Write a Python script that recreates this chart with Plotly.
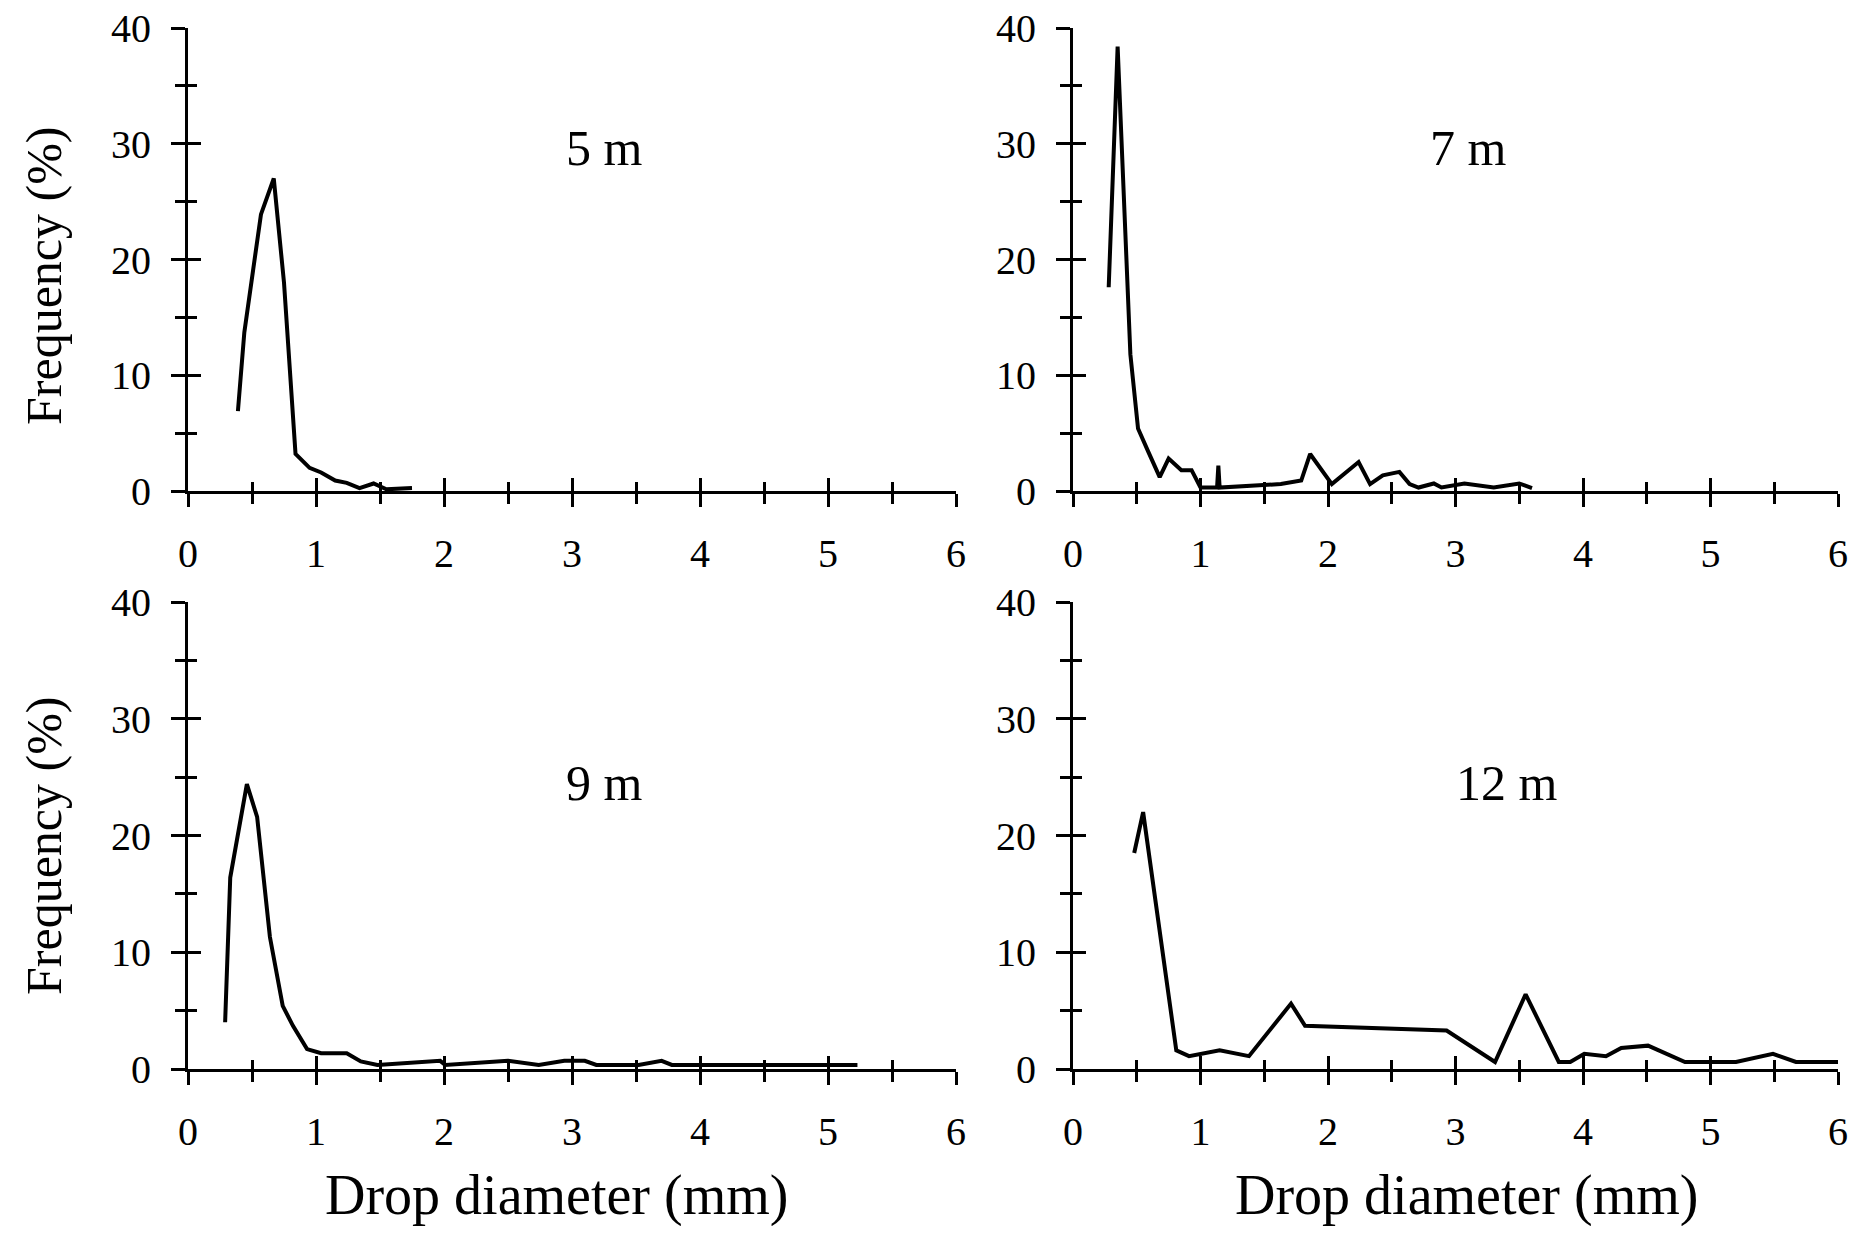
import plotly.graph_objects as go

# ---- data ----
panel_labels = ["5 m", "7 m", "9 m", "12 m"]

d5_x = [0.39, 0.44, 0.57, 0.67, 0.75, 0.84, 0.95, 1.04, 1.15, 1.24, 1.34, 1.45, 1.55, 1.66, 1.75]
d5_y = [6.9, 13.7, 23.9, 27.0, 18.0, 3.2, 2.0, 1.6, 0.9, 0.7, 0.25, 0.65, 0.15, 0.25, 0.25]

d7_x = [0.28, 0.35, 0.45, 0.51, 0.59, 0.68, 0.75, 0.85, 0.93, 1.00, 1.13, 1.14, 1.15, 1.34, 1.63, 1.79,
        1.86, 2.03, 2.24, 2.33, 2.43, 2.56, 2.64, 2.71, 2.83, 2.89, 3.07, 3.30, 3.50, 3.60]
d7_y = [17.6, 38.4, 11.8, 5.4, 3.4, 1.2, 2.8, 1.8, 1.8, 0.3, 0.3, 2.2, 0.3, 0.45, 0.6, 0.9,
        3.2, 0.6, 2.5, 0.6, 1.35, 1.65, 0.6, 0.3, 0.65, 0.3, 0.65, 0.3, 0.65, 0.25]

d9_x = [0.29, 0.33, 0.46, 0.54, 0.64, 0.74, 0.82, 0.93, 1.04, 1.24, 1.35, 1.48, 1.97, 2.01, 2.50,
        2.74, 2.94, 3.10, 3.19, 3.52, 3.70, 3.78, 5.23]
d9_y = [4.0, 16.4, 24.4, 21.6, 11.3, 5.4, 3.7, 1.7, 1.35, 1.35, 0.65, 0.35, 0.7, 0.35, 0.7,
        0.35, 0.7, 0.7, 0.35, 0.35, 0.7, 0.35, 0.35]

d12_x = [0.48, 0.55, 0.81, 0.91, 1.15, 1.38, 1.71, 1.82, 2.93, 3.31, 3.55, 3.81, 3.90, 4.01, 4.18,
         4.30, 4.51, 4.80, 5.20, 5.49, 5.67, 6.00]
d12_y = [18.5, 22.0, 1.6, 1.1, 1.6, 1.1, 5.6, 3.7, 3.3, 0.6, 6.4, 0.6, 0.6, 1.3, 1.1,
         1.8, 2.0, 0.6, 0.6, 1.3, 0.6, 0.6]

series_x = [d5_x, d7_x, d9_x, d12_x]
series_y = [d5_y, d7_y, d9_y, d12_y]

x_title = "Drop diameter (mm)"
y_title = "Frequency (%)"
x_range = [0, 6]
y_range = [0, 40]

# ---- layout ----
OFF = 8                      # page body margin around the plot div
W, H = 1874 - 2 * OFF, 1234 - 2 * OFF
FONT = "Liberation Serif"


def px(v):
    return (v - OFF) / W


def py(v):
    return 1 - (v - OFF) / H


x_domains = [[px(188), px(956)], [px(1073), px(1838)]]
y_domains = [[py(491), py(28)], [py(1069), py(602)]]
label_pos = [(3.25, 29.6), (3.10, 29.6), (3.25, 24.5), (3.40, 24.5)]

fig = go.Figure()
layout = dict(
    width=W, height=H, margin=dict(l=0, r=0, t=0, b=0, pad=0, autoexpand=False),
    paper_bgcolor="white", plot_bgcolor="white", showlegend=False,
    font=dict(family=FONT, color="black", size=40),
)
annotations = []

for i in range(4):
    row, col = divmod(i, 2)
    n = i + 1
    m = i + 5
    xa, ya = f"x{n if n > 1 else ''}", f"y{n if n > 1 else ''}"
    xo, yo = f"x{m}", f"y{m}"
    xkey, ykey = f"xaxis{n if n > 1 else ''}", f"yaxis{n if n > 1 else ''}"

    base_x = dict(domain=x_domains[col], anchor=ya, range=x_range, showgrid=False, zeroline=False,
                  automargin=False, showline=True, linecolor="black", linewidth=3,
                  tickmode="linear", tick0=0, dtick=1, ticks="outside", ticklen=13, tickwidth=2.5,
                  tickcolor="black", tickfont=dict(size=40, family=FONT), ticklabelstandoff=12,
                  ticklabeloverflow="allow",
                  minor=dict(dtick=0.5, ticks="outside", ticklen=10, tickwidth=2.5, tickcolor="black"))
    base_y = dict(domain=y_domains[row], anchor=xa, range=y_range, showgrid=False, zeroline=False,
                  automargin=False, showline=True, linecolor="black", linewidth=3,
                  tickmode="linear", tick0=0, dtick=10, ticks="outside", ticklen=14, tickwidth=2.5,
                  tickcolor="black", tickfont=dict(size=40, family=FONT), ticklabelstandoff=12,
                  ticklabeloverflow="allow",
                  minor=dict(dtick=5, ticks="outside", ticklen=10, tickwidth=2.5, tickcolor="black"))
    layout[xkey] = base_x
    layout[ykey] = base_y
    # overlay axes give the inside half of the crossing ticks
    layout[f"xaxis{m}"] = dict(domain=x_domains[col], anchor=yo, overlaying=xa, matches=xa,
                               range=x_range, showgrid=False, zeroline=False, showline=False,
                               automargin=False, showticklabels=False, tickmode="linear", tick0=0,
                               dtick=1, ticks="inside", ticklen=13, tickwidth=2.5, tickcolor="black",
                               minor=dict(dtick=0.5, ticks="inside", ticklen=9, tickwidth=2.5,
                                          tickcolor="black"))
    layout[f"yaxis{m}"] = dict(domain=y_domains[row], anchor=xo, overlaying=ya, matches=ya,
                               range=y_range, showgrid=False, zeroline=False, showline=False,
                               automargin=False, showticklabels=False, tickmode="linear", tick0=0,
                               dtick=10, ticks="inside", ticklen=13, tickwidth=2.5, tickcolor="black",
                               minor=dict(dtick=5, ticks="inside", ticklen=9, tickwidth=2.5,
                                          tickcolor="black"))

    fig.add_trace(go.Scatter(x=series_x[i], y=series_y[i], mode="lines", xaxis=xa, yaxis=ya,
                             line=dict(color="black", width=4), hoverinfo="skip"))
    fig.add_trace(go.Scatter(x=series_x[i], y=series_y[i], mode="none", xaxis=xo, yaxis=yo,
                             hoverinfo="skip"))

    annotations.append(dict(text=panel_labels[i], x=label_pos[i][0], y=label_pos[i][1],
                            xref=xa, yref=ya, showarrow=False,
                            font=dict(size=50, family=FONT, color="black")))

# axis titles
for xc in [px(556), px(1466)]:
    annotations.append(dict(text=x_title, x=xc, y=py(1195), xref="paper", yref="paper",
                            showarrow=False, xanchor="center", yanchor="middle",
                            font=dict(size=56, family=FONT, color="black")))
for yc in [py(276), py(846)]:
    annotations.append(dict(text=y_title, x=px(44), y=yc, xref="paper", yref="paper",
                            showarrow=False, xanchor="center", yanchor="middle", textangle=-90,
                            font=dict(size=50, family=FONT, color="black")))

layout["annotations"] = annotations
fig.update_layout(**layout)
fig.write_html("out.html")
